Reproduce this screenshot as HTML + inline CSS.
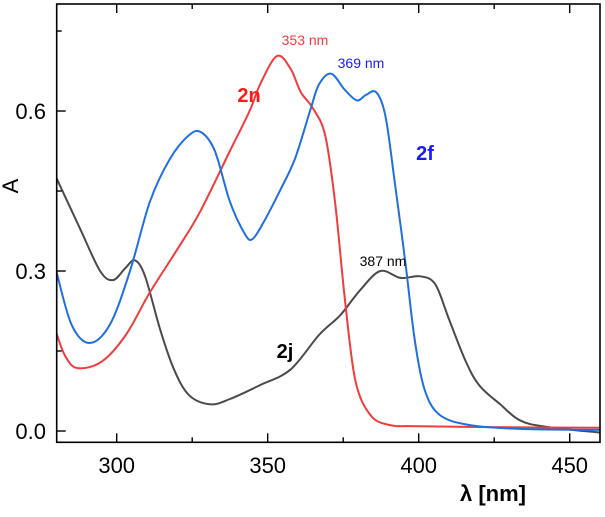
<!DOCTYPE html>
<html><head><meta charset="utf-8"><style>
html,body{margin:0;padding:0;background:#fff;}
svg text{font-family:"Liberation Sans",Arial,sans-serif;}
</style></head><body>
<svg id="chart" width="605" height="512" viewBox="0 0 605 512" xmlns="http://www.w3.org/2000/svg">
<g id="curves"></g>
<g id="axes"></g>
</svg>
<script>
const xTicks = [300, 350, 400, 450];
const xMinor = [325, 375, 425];
const yTicks = [0.0, 0.3, 0.6];
const yTickLabels = ["0.0", "0.3", "0.6"];
const yMinor = [0.15, 0.45, 0.75];
const red2nX = [280, 283, 287, 295, 303, 311, 320, 327.5, 337.5, 344, 347.5, 353, 357.5, 361, 365, 369, 372.3, 375.6, 379, 384, 390.5, 400, 430, 460];
const red2nY = [0.184, 0.14, 0.118, 0.13, 0.18, 0.26, 0.34, 0.41, 0.525, 0.6, 0.65, 0.703, 0.68, 0.635, 0.605, 0.555, 0.43, 0.245, 0.095, 0.03, 0.011, 0.009, 0.007, 0.006];
const blue2fX = [280, 285, 291, 297.8, 304.4, 311, 317.6, 324, 328, 332.5, 337.5, 342.4, 345, 349, 354, 359, 364, 367, 371, 375.5, 379.5, 382.5, 386, 389, 392, 395.5, 398.7, 402, 407, 417, 433.5, 460];
const blue2fY = [0.3, 0.2, 0.165, 0.2, 0.3, 0.43, 0.51, 0.555, 0.56, 0.525, 0.43, 0.37, 0.36, 0.395, 0.45, 0.51, 0.6, 0.65, 0.67, 0.64, 0.62, 0.63, 0.635, 0.59, 0.47, 0.32, 0.17, 0.077, 0.03, 0.011, 0.004, 0.002];
const gray2jX = [280, 287.8, 294.5, 298.8, 302.8, 306, 309.4, 314.4, 319, 324, 331, 337.5, 347.5, 357.5, 367, 374, 380.6, 387.3, 394, 400.5, 405.5, 410, 415.4, 420, 427, 433.5, 442, 460];
const gray2jY = [0.475, 0.38, 0.3, 0.283, 0.305, 0.32, 0.29, 0.19, 0.115, 0.067, 0.05, 0.06, 0.086, 0.115, 0.18, 0.217, 0.264, 0.3, 0.287, 0.29, 0.275, 0.21, 0.133, 0.086, 0.05, 0.02, 0.008, -0.003];

const L=56.7,R=600,T=4,B=442.3;
function xs(v){return 116.7+(v-300)*3.02;}
function ys(v){return 431-(v*533.3);}
const NS="http://www.w3.org/2000/svg";
function mk(tag,attrs,parent){const e=document.createElementNS(NS,tag);for(const k in attrs)e.setAttribute(k,attrs[k]);parent.appendChild(e);return e;}
function smooth(xa,ya){
  const p=xa.map((x,i)=>[xs(x),ys(ya[i])]);
  let d="M"+p[0][0].toFixed(1)+","+p[0][1].toFixed(1);
  for(let i=0;i<p.length-1;i++){
    const p0=p[i-1]||p[i],p1=p[i],p2=p[i+1],p3=p[i+2]||p2;
    const c1=[p1[0]+(p2[0]-p0[0])/6,p1[1]+(p2[1]-p0[1])/6];
    const c2=[p2[0]-(p3[0]-p1[0])/6,p2[1]-(p3[1]-p1[1])/6];
    d+=" C"+c1.map(v=>v.toFixed(1))+" "+c2.map(v=>v.toFixed(1))+" "+p2.map(v=>v.toFixed(1));
  }
  return d;
}
const cg=document.getElementById('curves');
const ax=document.getElementById('axes');
const clip=mk('clipPath',{id:'pc'},cg);mk('rect',{x:L,y:T,width:R-L,height:B-T},clip);
let e;
e=mk('path',{d:smooth(gray2jX,gray2jY),fill:'none',stroke:'#4a4a4a','stroke-width':2,'clip-path':'url(#pc)'},cg);


e=mk('path',{d:smooth(red2nX,red2nY),fill:'none',stroke:'#f03c3c','stroke-width':2,'clip-path':'url(#pc)'},cg);


e=mk('path',{d:smooth(blue2fX,blue2fY),fill:'none',stroke:'#1f6fe0','stroke-width':2,'clip-path':'url(#pc)'},cg);



e=mk('rect',{x:L,y:T,width:R-L,height:B-T,fill:'none',stroke:'#000','stroke-width':1.6},ax);


xTicks.forEach(v=>{
  mk('line',{x1:xs(v),x2:xs(v),y1:B,y2:B-9,stroke:'#000','stroke-width':1.4},ax);
  mk('line',{x1:xs(v),x2:xs(v),y1:T,y2:T+9,stroke:'#000','stroke-width':1.4},ax);
  e=mk('text',{x:xs(v),y:473,'text-anchor':'middle','font-size':22,fill:'#000'},ax);e.textContent=v;
  
  
});
xMinor.forEach(v=>{
  mk('line',{x1:xs(v),x2:xs(v),y1:B,y2:B-5,stroke:'#000','stroke-width':1.4},ax);
  mk('line',{x1:xs(v),x2:xs(v),y1:T,y2:T+5,stroke:'#000','stroke-width':1.4},ax);
});
yTicks.forEach((v,i)=>{
  mk('line',{x1:L,x2:L+9,y1:ys(v),y2:ys(v),stroke:'#000','stroke-width':1.4},ax);
  e=mk('text',{x:46,y:ys(v)+8,'text-anchor':'end','font-size':22,fill:'#000'},ax);e.textContent=yTickLabels[i];
  
  
});
yMinor.forEach(v=>{mk('line',{x1:L,x2:L+5,y1:ys(v),y2:ys(v),stroke:'#000','stroke-width':1.4},ax);});
</script>
<svg style="position:absolute;left:0;top:0" width="605" height="512">
<text x="18" y="186" font-size="22" text-anchor="middle" transform="rotate(-90 18 186)" style="font-family:'Liberation Sans',sans-serif">A</text>
<text x="493" y="501" font-size="22" font-weight="bold" text-anchor="middle" style="font-family:'Liberation Sans',sans-serif">λ [nm]</text>
<text x="305" y="45" font-size="14" fill="#f03c3c" text-anchor="middle" style="font-family:'Liberation Sans',sans-serif">353 nm</text>
<text x="361" y="68" font-size="14" fill="#1a1aff" text-anchor="middle" style="font-family:'Liberation Sans',sans-serif">369 nm</text>
<text x="383" y="266" font-size="14" fill="#000" text-anchor="middle" style="font-family:'Liberation Sans',sans-serif">387 nm</text>
<text x="249" y="102" font-size="20" font-weight="bold" fill="#ff1a1a" text-anchor="middle" style="font-family:'Liberation Sans',sans-serif">2n</text>
<text x="425" y="160" font-size="20" font-weight="bold" fill="#1a1aff" text-anchor="middle" style="font-family:'Liberation Sans',sans-serif">2f</text>
<text x="285" y="358" font-size="20" font-weight="bold" fill="#000" text-anchor="middle" style="font-family:'Liberation Sans',sans-serif">2j</text>
</svg>
</body></html>
